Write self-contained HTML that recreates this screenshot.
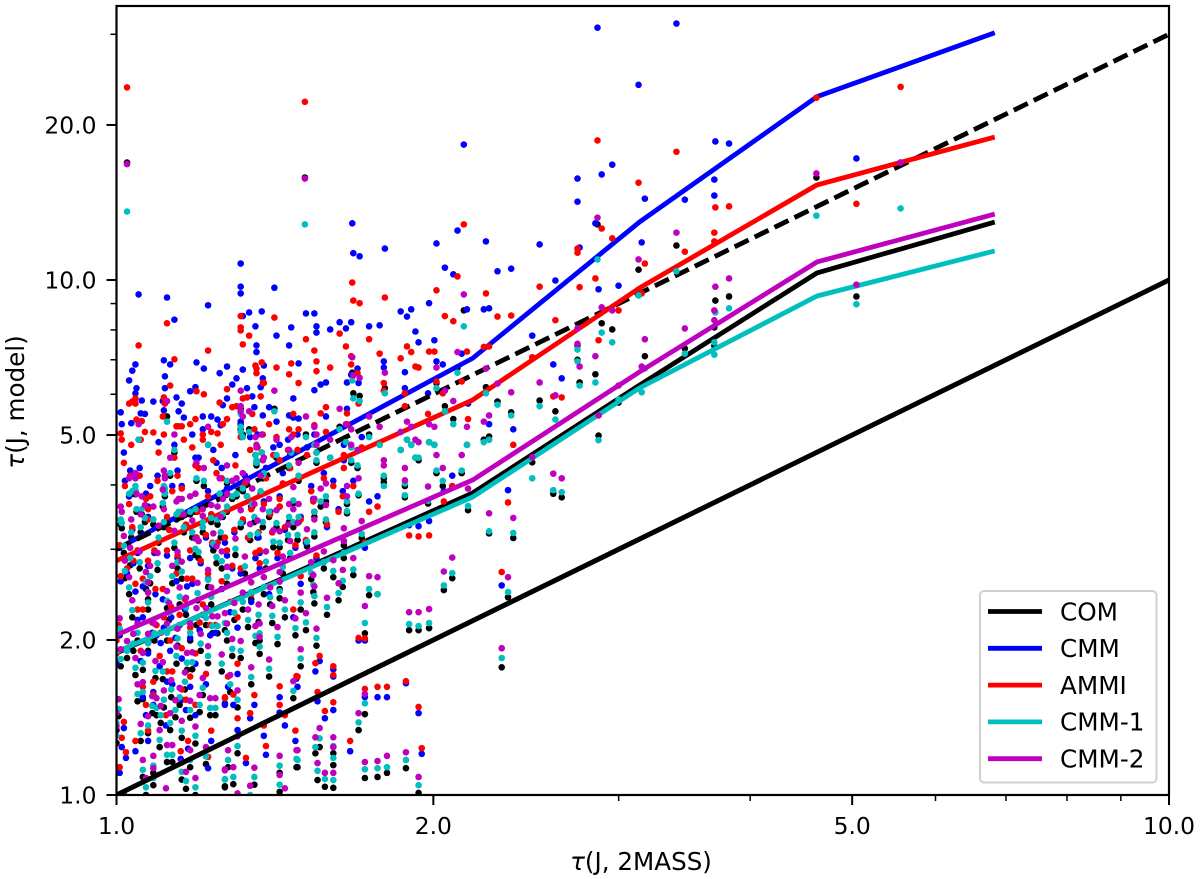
<!DOCTYPE html>
<html lang="en">
<head>
<meta charset="utf-8">
<title>τ(J) model vs 2MASS</title>
<style>
html,body{margin:0;padding:0;background:#fff;}
svg{display:block;}
text{font-family:"DejaVu Sans","Liberation Sans",sans-serif;font-size:23.4px;fill:#000;}
.title{font-size:24.6px;}
.leg{font-size:24.7px;}
</style>
</head>
<body>
<svg id="chart" xmlns="http://www.w3.org/2000/svg" width="1200" height="879" viewBox="0 0 1200 879">
<defs><clipPath id="plot-clip"><rect x="116.5" y="6" width="1052.5" height="789"/></clipPath></defs>
<rect x="0" y="0" width="1200" height="879" fill="#fff"/>
<g id="marks" clip-path="url(#plot-clip)"></g>
<g id="axes"></g>
<text class="title" x="641" y="870" text-anchor="middle"><tspan font-style="italic">τ</tspan>(J, 2MASS)</text>
<text class="title" transform="translate(24,402) rotate(-90)" text-anchor="middle"><tspan font-style="italic">τ</tspan>(J, model)</text>
<g id="legend"></g>
</svg>
<script>
// Axis tick values and printed labels
const xMajorTicks = [1, 2, 5, 10];
const xMajorLabels = ["1.0", "2.0", "5.0", "10.0"];
const xMinorTicks = [3, 4, 6, 7, 8, 9];
const yMajorTicks = [1, 2, 5, 10, 20];
const yMajorLabels = ["1.0", "2.0", "5.0", "10.0", "20.0"];
const yMinorTicks = [3, 4, 6, 7, 8, 9, 30];

// Binned median curves: tau(J, 2MASS) bin centres and tau(J, model) per model
const binTau = [1.0, 2.18, 3.14, 4.63, 6.83];
const lineCOM = [1.887, 3.86, 6.25, 10.32, 12.96];
const lineCMM = [3.0, 7.05, 12.96, 22.7, 30.2];
const lineAMMI = [2.85, 5.85, 9.65, 15.3, 18.95];
const lineCMM1 = [1.896, 3.79, 6.17, 9.31, 11.39];
const lineCMM2 = [2.045, 4.09, 6.63, 10.84, 13.43];

// Reference relations: model = factor * 2MASS
const oneToOneTau = [1, 10];
const oneToOneModel = [1, 10];
const threeToOneTau = [1, 10];
const threeToOneModel = [3, 30];

// Individual sources, log10 tau(J, 2MASS)
const sourceLogTau = [
.010,.179,.457,.496,.532,.569,.582,.568,.568,.540,.502,.499,.461,.471,.455,.458,.438,.440,.438,.477,.417,.402,.375,.362,.351,.354,.395,.423,.415,.366,.372,.354,.377,.334,.287,.278,.297,.311,.319,.287,.275,.257,.248,.236,.236,.230,.236,.240,.248,.206,.206,.206,.198,.191,.189,.193,.171,.290,.222,.703,.665,.745,
.118,.118,.118,.021,.048,.055,.087,.126,.138,.132,.152,.133,.166,.164,.173,.150,.330,.324,.304,.255,.224,.320,.312,.231,.225,
.045,.051,.076,.083,.015,.018,.012,.019,.024,.046,.070,.075,.098,.105,.110,.114,.120,.120,.124,.133,.137,.139,.140,.129,.105,.101,.035,.057,.059,.062,.045,.004,.014,.023,.064,.082,.096,.099,.131,.139,.145,.164,.168,.173,
.180,.188,.190,.190,.203,.212,.218,.223,.240,.250,.270,.276,.280,.284,.287,.302,.297,.333,.349,.328,.229,.223,.219,.194,.199,.188,.304,.310,.274,.254,
.005,.018,.046,.008,.013,.032,.039,.058,.053,.075,
.087,.092,.077,.113,.149,.155,.155,.163,.172,.168,
.082,.127,.125,.148,.135,.091,.096,.103,.076,.048,
.015,.010,.025,.018,.037,.020,.025,.067,.072,.087,
.132,.136,.118,.153,.128,.168,.082,.089,.094,.079,
.038,.056,.034,.062,.051,.041,.048,.053,.070,.035,
.025,.035,.115,.106,.103,.111,.172,.155,.155,.000,
.000,.002,.188,.187,.185,.206,.215,.211,.225,.216,
.216,.188,.181,.199,.219,.230,.233,.274,.296,.197,
.254,.007,.005,.009,.003,.087,.123,.142,.131,.127,
.103,.115,.068,.061,.047,.030,.018,.140,.090,.028,
.066,.160,.170,.075,.045,.052,.060,.065,.042,.070,
.030,.023,.075,.085,.062,.044,.057,.030,.048,.070,
.020,.108,.100,.115,.105,.120,.140,.060,.090,.030,
.160,.180,.175,.145,.190,.200,
.003,.012,.022,.030,.040,.050,.062,.072,.085,.095,
.105,.118,.128,.142,.155,.165,.175,.007,.016,.027,
.036,.044,.055,.066,.078,.090,.100,.112,.122,.134,
.146,.158,.170,.004,.028,.058,.080,.110,.136,.152
];

// Individual sources, log10 tau(J, model) for each model
const logCOM = [
1.228,1.199,1.108,1.020,1.067,.960,.968,.908,.872,.867,.852,.795,.916,.904,.817,.698,.873,.801,.845,.762,.745,.766,.743,.764,.792,.696,.646,.578,.585,.248,.384,.508,.499,.553,.320,.320,.324,.398,.421,.004,.052,.043,.035,.033,.157,.126,.314,.388,.390,.014,.058,.081,.016,.029,.081,.093,.054,-.083,-.068,.968,1.199,1.228,
.75,.72,.71,.69,.735,.665,.68,.71,.665,.66,.655,.64,.66,.635,.61,.75,.941,.83,.80,.79,.82,.73,.755,.775,.78,
.595,.62,.61,.60,.585,.59,.58,.55,.545,.58,.545,.55,.58,.605,.575,.58,.59,.70,.58,.645,.585,.615,.62,.56,.55,.54,.525,.535,.54,.54,.52,.525,.50,.51,.51,.52,.525,.50,.53,.52,.54,.53,.52,.53,
.70,.68,.665,.645,.655,.715,.685,.675,.70,.68,.67,.69,.68,.655,.65,.68,.685,.68,.69,.625,.635,.645,.565,.56,.57,.54,.625,.60,.60,.615,
.518,.584,.586,.421,.446,.411,.437,.440,.411,.466,
.404,.475,.378,.466,.481,.481,.382,.495,.495,.566,
.510,.495,.326,.334,.336,.314,.314,.320,.330,.363,
.345,.266,.243,.233,.227,.182,.186,.243,.244,.256,
.295,.274,.266,.293,.215,.188,.194,.155,.155,.161,
.155,.151,.159,.111,.126,.093,.064,.064,.054,.043,
.035,.019,.081,.054,.017,.021,.054,.043,.006,.126,
.101,.153,.372,.394,.419,.423,.404,.378,.427,.460,
.485,.502,.483,.530,.547,.582,.499,.578,.566,.440,
.607,-.03,-.06,-.09,-.12,-.10,-.10,-.075,.02,-.015,
.015,-.03,-.07,-.09,-.02,-.05,-.07,-.04,-.05,.000,
.012,-.02,-.05,.000,.17,.19,.175,.205,.14,.15,
.12,.105,.10,.06,.03,.225,.255,.28,.30,.30,
.30,.20,.24,.17,.30,.36,.39,.37,.37,.38,
.345,.32,.25,.23,.29,.35,
.31,.39,.44,.36,.49,.34,.42,.50,.33,.45,
.41,.52,.38,.44,.40,.46,.36,.47,.28,.53,
.30,.56,.48,.35,.46,.53,.44,.34,.43,.50,
.37,.43,.31,.25,.40,.29,.28,.27,.30,.52
];
const logCMM = [
1.62,1.59,1.490,1.379,1.498,1.269,1.265,1.195,1.164,1.156,1.158,1.073,1.205,1.224,1.110,.982,1.197,1.063,1.152,.989,.999,1.069,1.022,1.017,1.075,.945,.892,.809,.836,.407,.592,.72,.71,.76,.522,.524,.532,.59,.62,.159,.217,.19,.190,.19,.30,.30,.48,.57,.58,.165,.244,.23,.149,.182,.240,.26,.226,.080,.085,1.236,1.58,1.62,
1.032,.974,.987,.972,.966,.923,.951,.937,.939,.910,.892,.873,.908,.873,.838,.985,1.263,1.096,1.071,1.061,1.110,1.011,1.024,1.046,1.052,
.844,.836,.840,.828,.824,.836,.805,.790,.766,.813,.784,.792,.819,.832,.797,.809,.826,.93,.790,.86,.792,.809,.834,.774,.77,.757,.764,.772,.745,.76,.747,.743,.722,.741,.733,.735,.729,.718,.753,.737,.753,.737,.733,.731,
.935,.935,.910,.898,.904,.918,.906,.918,.910,.912,.939,.929,.943,.900,.879,.883,.955,.943,.943,.857,.828,.816,.801,.797,.801,.786,.842,.836,.821,.842,
.72,.78,.79,.61,.63,.60,.62,.63,.60,.655,
.59,.67,.555,.66,.675,.68,.56,.69,.70,.77,
.71,.695,.50,.51,.50,.485,.49,.49,.50,.535,
.515,.43,.405,.395,.39,.34,.345,.405,.41,.42,
.46,.44,.43,.46,.375,.345,.35,.31,.315,.32,
.31,.305,.315,.265,.28,.25,.22,.215,.21,.20,
.19,.175,.235,.21,.175,.175,.21,.19,.16,.28,
.255,.31,.55,.575,.60,.61,.59,.555,.61,.65,
.68,.70,.675,.735,.75,.80,.695,.79,.78,.625,
.83,.13,.093,.072,.043,.052,.062,.078,.175,.149,
.178,.126,.09,.07,.135,.105,.085,.115,.105,.155,
.165,.135,.105,.155,.325,.345,.33,.36,.295,.305,
.275,.26,.255,.215,.185,.38,.415,.445,.465,.46,
.47,.355,.40,.325,.465,.53,.57,.54,.545,.56,
.515,.49,.41,.39,.46,.52,
.48,.58,.635,.54,.685,.515,.60,.70,.50,.645,
.595,.725,.56,.635,.58,.66,.54,.665,.45,.74,
.47,.765,.68,.525,.655,.735,.635,.51,.62,.70,
.55,.625,.48,.415,.585,.46,.45,.44,.47,.725
];
const logAMMI = [
1.374,1.346,1.271,1.189,1.249,1.141,1.143,1.092,1.075,1.055,1.032,.974,1.100,1.081,1.003,.883,1.061,.986,1.053,.941,.922,.987,.931,.929,.974,.871,.850,.772,.774,.433,.568,.69,.68,.73,.502,.504,.504,.57,.60,.171,.221,.210,.210,.206,.304,.305,.49,.55,.56,.180,.233,.25,.163,.200,.256,.27,.231,.091,.105,1.148,1.354,1.375,
.93,.908,.902,.873,.916,.846,.863,.892,.840,.834,.830,.819,.838,.817,.80,.927,1.108,1.007,.980,.966,.995,.92,.93,.955,.96,
.772,.795,.784,.778,.764,.770,.760,.729,.726,.762,.72,.73,.762,.788,.753,.755,.77,.875,.772,.828,.774,.80,.80,.74,.73,.72,.704,.716,.716,.716,.70,.702,.68,.69,.69,.70,.702,.68,.71,.70,.72,.71,.70,.71,
.885,.863,.842,.823,.830,.896,.871,.852,.885,.857,.848,.871,.860,.832,.830,.861,.861,.861,.87,.803,.819,.836,.741,.741,.753,.718,.803,.78,.78,.80,
.69,.76,.76,.60,.62,.58,.61,.62,.59,.64,
.58,.65,.55,.64,.66,.65,.56,.67,.67,.74,
.69,.67,.50,.51,.51,.49,.49,.50,.50,.54,
.52,.44,.42,.41,.40,.36,.36,.42,.42,.43,
.47,.45,.44,.47,.39,.36,.37,.33,.33,.335,
.33,.325,.335,.285,.30,.27,.24,.24,.23,.22,
.21,.195,.255,.23,.19,.195,.23,.211,.175,.30,
.275,.33,.55,.57,.59,.60,.58,.55,.60,.635,
.66,.68,.66,.705,.72,.76,.675,.755,.74,.615,
.785,.142,.111,.083,.054,.074,.072,.095,.194,.159,
.188,.149,.105,.085,.155,.125,.105,.135,.125,.175,
.185,.155,.125,.175,.345,.365,.35,.38,.315,.325,
.295,.28,.275,.235,.205,.40,.43,.455,.475,.475,
.475,.375,.415,.345,.475,.535,.565,.545,.545,.555,
.52,.495,.425,.405,.465,.525,
.485,.565,.62,.535,.665,.515,.595,.675,.505,.625,
.585,.695,.555,.615,.575,.635,.535,.645,.455,.705,
.475,.735,.655,.525,.635,.705,.615,.515,.605,.675,
.545,.605,.485,.425,.575,.465,.455,.445,.475,.695
];
const logCMM1 = [
1.133,1.108,1.040,.970,1.017,.937,.945,.879,.855,.857,.828,.782,.898,.879,.801,.689,.865,.795,.842,.768,.729,.755,.737,.758,.780,.690,.615,.588,.592,.266,.394,.512,.509,.561,.328,.332,.334,.407,.431,.019,.068,.054,.052,.050,.178,.141,.334,.400,.390,.029,.072,.095,.031,.047,.093,.110,.070,-.07,-.05,.953,1.125,1.139,
.74,.715,.705,.69,.725,.67,.68,.705,.665,.66,.66,.645,.665,.64,.62,.745,.91,.82,.79,.78,.805,.72,.745,.765,.77,
.60,.625,.615,.61,.59,.60,.585,.555,.555,.585,.55,.555,.585,.61,.58,.585,.595,.695,.58,.65,.59,.62,.625,.565,.56,.545,.535,.545,.55,.55,.53,.535,.51,.52,.52,.53,.535,.51,.54,.53,.55,.54,.53,.54,
.695,.68,.665,.65,.655,.71,.685,.675,.695,.68,.67,.69,.68,.655,.655,.68,.685,.68,.685,.63,.64,.65,.57,.57,.58,.55,.63,.61,.605,.62,
.528,.592,.595,.435,.46,.425,.45,.452,.425,.478,
.418,.488,.392,.478,.492,.49,.396,.505,.505,.572,
.52,.505,.34,.348,.35,.328,.328,.334,.344,.377,
.359,.28,.257,.247,.241,.196,.2,.257,.258,.27,
.309,.288,.28,.307,.229,.202,.208,.169,.169,.175,
.169,.165,.173,.125,.14,.107,.078,.078,.068,.057,
.049,.033,.095,.068,.031,.035,.068,.057,.02,.14,
.115,.167,.386,.408,.431,.435,.416,.392,.438,.47,
.494,.51,.492,.535,.551,.585,.507,.582,.571,.452,
.60,-.015,-.045,-.075,-.105,-.085,-.085,-.06,.035,0,
.03,-.015,-.055,-.075,-.005,-.035,-.055,-.025,-.035,.015,
.027,-.005,-.035,.015,.185,.205,.19,.22,.155,.165,
.135,.12,.115,.075,.045,.24,.27,.295,.315,.315,
.315,.215,.255,.185,.315,.375,.404,.385,.385,.394,
.36,.335,.265,.245,.305,.365,
.323,.403,.452,.374,.5,.354,.434,.51,.344,.462,
.424,.528,.394,.453,.414,.47,.374,.484,.294,.538,
.314,.567,.49,.364,.472,.538,.454,.354,.444,.508,
.384,.443,.324,.264,.414,.304,.294,.284,.314,.528
];
const logCMM2 = [
1.225,1.197,1.121,1.040,1.092,.987,1.003,.941,.922,.906,.885,.832,.947,.941,.852,.737,.906,.832,.876,.795,.776,.801,.782,.799,.828,.737,.656,.615,.624,.285,.423,.547,.538,.595,.355,.355,.361,.434,.461,.035,.083,.076,.066,.064,.196,.159,.367,.425,.423,.043,.093,.112,.043,.062,.112,.130,.087,-.05,-.035,.991,1.207,1.228,
.785,.755,.745,.72,.765,.70,.715,.745,.70,.695,.69,.675,.695,.67,.645,.785,.972,.86,.83,.82,.85,.765,.785,.81,.815,
.63,.655,.645,.635,.62,.625,.615,.585,.58,.615,.58,.585,.615,.64,.61,.615,.625,.735,.61,.68,.62,.65,.655,.595,.585,.575,.56,.57,.575,.575,.555,.56,.535,.545,.545,.555,.56,.54,.565,.555,.575,.565,.555,.565,
.735,.715,.70,.68,.69,.75,.72,.71,.735,.715,.705,.725,.715,.69,.685,.715,.72,.715,.725,.66,.67,.68,.60,.595,.605,.575,.66,.635,.635,.65,
.55,.615,.62,.455,.48,.445,.47,.472,.445,.498,
.437,.508,.412,.498,.514,.512,.415,.525,.528,.598,
.542,.526,.36,.367,.37,.347,.347,.353,.363,.396,
.378,.299,.276,.266,.26,.215,.219,.276,.277,.289,
.328,.307,.299,.326,.248,.221,.227,.188,.188,.194,
.188,.184,.192,.144,.159,.126,.097,.097,.087,.076,
.068,.052,.114,.087,.05,.054,.087,.076,.039,.159,
.134,.186,.405,.427,.452,.456,.437,.411,.46,.493,
.518,.535,.516,.563,.58,.615,.532,.611,.599,.473,
.64,.003,-.027,-.057,-.087,-.067,-.067,-.042,.053,.018,
.048,.003,-.037,-.057,.013,-.017,-.037,-.007,-.017,.033,
.045,.013,-.017,.033,.203,.223,.208,.238,.173,.183,
.153,.138,.133,.093,.063,.258,.288,.313,.333,.333,
.333,.233,.273,.203,.333,.393,.423,.403,.403,.413,
.378,.353,.283,.263,.323,.383,
.343,.423,.473,.393,.523,.373,.453,.533,.363,.483,
.443,.553,.413,.473,.433,.493,.393,.503,.313,.563,
.333,.593,.513,.383,.493,.563,.473,.373,.463,.533,
.403,.463,.343,.283,.433,.323,.313,.303,.333,.553
];

// Legend labels
const legendLabels = ["COM", "CMM", "AMMI", "CMM-1", "CMM-2"];

const SVGNS = "http://www.w3.org/2000/svg";
const PLOT_LEFT = 116.5, PLOT_RIGHT = 1169, PLOT_TOP = 6, PLOT_BOTTOM = 795;
const PX_PER_DEX_X = 1052.5, PX_PER_DEX_Y = 515;
function xFromLog(v) { return PLOT_LEFT + v * PX_PER_DEX_X; }
function yFromLog(v) { return PLOT_BOTTOM - v * PX_PER_DEX_Y; }
function xFromTau(v) { return xFromLog(Math.log10(v)); }
function yFromTau(v) { return yFromLog(Math.log10(v)); }

const marks = document.getElementById("marks");
const axes = document.getElementById("axes");
const legend = document.getElementById("legend");

function make(tag, attrs) {
  const el = document.createElementNS(SVGNS, tag);
  for (const k in attrs) el.setAttribute(k, attrs[k]);
  return el;
}
function polyPoints(taus, models) {
  return taus.map(function (t, i) { return xFromTau(t).toFixed(2) + "," + yFromTau(models[i]).toFixed(2); }).join(" ");
}

const seriesColors = ["#000000", "#0000ff", "#ff0000", "#00bfbf", "#bf00bf"];
const seriesKeys = ["com", "cmm", "ammi", "cmm-1", "cmm-2"];
const seriesPoints = [logCOM, logCMM, logAMMI, logCMM1, logCMM2];
const seriesLines = [lineCOM, lineCMM, lineAMMI, lineCMM1, lineCMM2];

seriesKeys.forEach(function (key, s) {
  const group = make("g", { fill: seriesColors[s] });
  
  
  sourceLogTau.forEach(function (xv, i) {
    const yv = seriesPoints[s][i];
    if (yv === undefined) return;
    const c = make("circle", { cx: xFromLog(xv).toFixed(2), cy: yFromLog(yv).toFixed(2), r: 3.3 });
    
    
    group.appendChild(c);
  });
  marks.appendChild(group);
  const line = make("polyline", { points: polyPoints(binTau, seriesLines[s]), fill: "none", stroke: seriesColors[s], "stroke-width": 4.8, "stroke-linejoin": "round" });
  
  
  marks.appendChild(line);
  if (s === 1) {
    const dashed = make("polyline", { points: polyPoints(threeToOneTau, threeToOneModel), fill: "none", stroke: "#000", "stroke-width": 4.8, "stroke-dasharray": "15.5 6.7" });
    
    
    marks.appendChild(dashed);
  }
});
const oneToOne = make("polyline", { points: polyPoints(oneToOneTau, oneToOneModel), fill: "none", stroke: "#000", "stroke-width": 5 });


marks.appendChild(oneToOne);

// Spines
const spine = make("rect", { x: PLOT_LEFT, y: PLOT_TOP, width: PLOT_RIGHT - PLOT_LEFT, height: PLOT_BOTTOM - PLOT_TOP, fill: "none", stroke: "#000", "stroke-width": 2.2 });


axes.appendChild(spine);

// Ticks
xMinorTicks.forEach(function (v) {
  const px = xFromTau(v);
  const t = make("line", { x1: px, x2: px, y1: PLOT_BOTTOM, y2: PLOT_BOTTOM + 6, stroke: "#000", "stroke-width": 1.5 });
  
  
  axes.appendChild(t);
});
xMajorTicks.forEach(function (v, i) {
  const px = xFromTau(v);
  const t = make("line", { x1: px, x2: px, y1: PLOT_BOTTOM, y2: PLOT_BOTTOM + 10, stroke: "#000", "stroke-width": 2 });
  
  
  axes.appendChild(t);
  const lab = make("text", { x: px, y: 834, "text-anchor": "middle" });
  lab.textContent = xMajorLabels[i];
  
  
  axes.appendChild(lab);
});
yMinorTicks.forEach(function (v) {
  const py = yFromTau(v);
  const t = make("line", { x1: PLOT_LEFT - 6, x2: PLOT_LEFT, y1: py, y2: py, stroke: "#000", "stroke-width": 1.5 });
  
  
  axes.appendChild(t);
});
yMajorTicks.forEach(function (v, i) {
  const py = yFromTau(v);
  const t = make("line", { x1: PLOT_LEFT - 10, x2: PLOT_LEFT, y1: py, y2: py, stroke: "#000", "stroke-width": 2 });
  
  
  axes.appendChild(t);
  const lab = make("text", { x: 96.5, y: py + 8.5, "text-anchor": "end" });
  lab.textContent = yMajorLabels[i];
  
  
  axes.appendChild(lab);
});

// Legend
const box = make("rect", { x: 980, y: 591, width: 176.5, height: 191.5, rx: 4, ry: 4, fill: "#fff", "fill-opacity": 0.85, stroke: "#d0d0d0", "stroke-width": 2 });


legend.appendChild(box);
legendLabels.forEach(function (label, i) {
  const rowY = 611.5 + i * 36.8;
  const swatch = make("line", { x1: 988, x2: 1042, y1: rowY, y2: rowY, stroke: seriesColors[i], "stroke-width": 4.8 });
  
  
  legend.appendChild(swatch);
  const txt = make("text", { class: "leg", x: 1060, y: rowY + 8.8 });
  txt.textContent = label;
  
  
  legend.appendChild(txt);
});
</script>
</body>
</html>
